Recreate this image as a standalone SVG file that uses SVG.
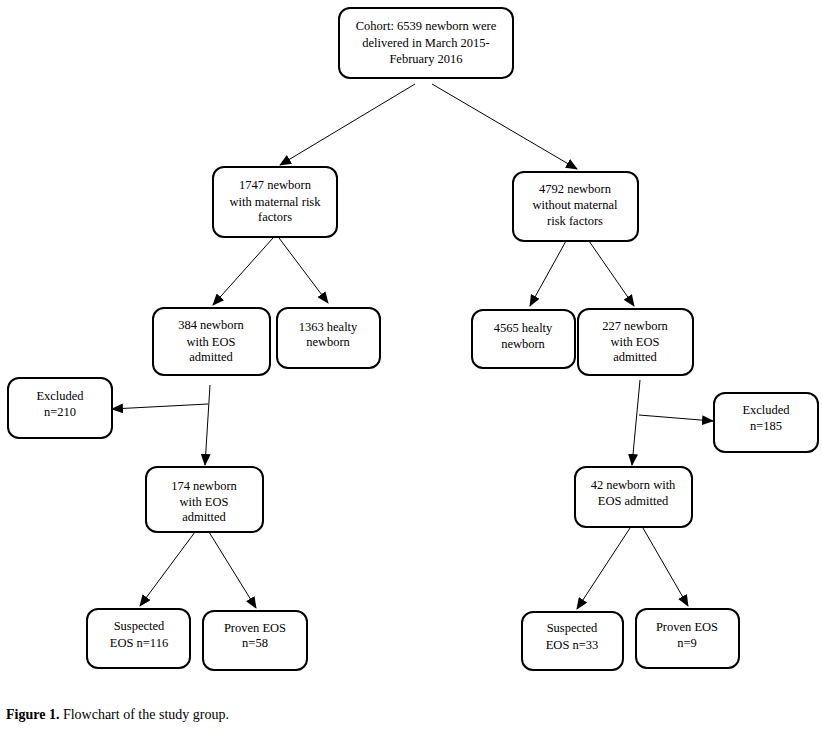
<svg xmlns="http://www.w3.org/2000/svg" width="822" height="729" viewBox="0 0 822 729">
<style>
.box{fill:#fff;stroke:#000;stroke-width:2}
.t{font-family:"Liberation Serif","Times New Roman",serif;font-size:12.5px;fill:#000;text-anchor:middle}
.c{font-family:"Liberation Serif","Times New Roman",serif;font-size:14px;fill:#000}
.ln{stroke:#000;stroke-width:1;fill:none;marker-end:url(#ah)}
</style>
<defs>
<marker id="ah" markerWidth="12" markerHeight="10" refX="11" refY="5" orient="auto" markerUnits="userSpaceOnUse">
<path d="M0,0 L12,5 L0,10 Z" fill="#000"/>
</marker>
</defs>
<rect width="822" height="729" fill="#fff"/>
<g id="connectors">
<line class="ln" x1="415" y1="84" x2="280" y2="165"/>
<line class="ln" x1="432" y1="84" x2="577" y2="169"/>
<line class="ln" x1="273" y1="238" x2="213" y2="305"/>
<line class="ln" x1="279" y1="238" x2="328" y2="303"/>
<line class="ln" x1="566" y1="241" x2="530" y2="306"/>
<line class="ln" x1="589" y1="241" x2="634" y2="306"/>
<line class="ln" x1="210" y1="385" x2="205" y2="465"/>
<line class="ln" x1="208" y1="404" x2="112" y2="409"/>
<line class="ln" x1="640" y1="380" x2="632" y2="465"/>
<line class="ln" x1="639" y1="415" x2="713" y2="421"/>
<line class="ln" x1="195" y1="532" x2="140" y2="606"/>
<line class="ln" x1="209" y1="532" x2="256" y2="608"/>
<line class="ln" x1="630" y1="528" x2="577" y2="609"/>
<line class="ln" x1="643" y1="528" x2="688" y2="606"/>
</g>
<g id="cohort">
<rect class="box" x="339" y="8" width="174" height="70" rx="11"/>
<text class="t" x="426" y="30">Cohort: 6539 newborn were</text>
<text class="t" x="426" y="47">delivered in March 2015-</text>
<text class="t" x="426" y="63">February 2016</text>
</g>
<g id="n1747">
<rect class="box" x="213" y="167" width="124" height="70" rx="11"/>
<text class="t" x="275" y="189">1747 newborn</text>
<text class="t" x="275" y="206">with maternal risk</text>
<text class="t" x="275" y="221">factors</text>
</g>
<g id="n4792">
<rect class="box" x="513" y="172" width="125" height="69" rx="11"/>
<text class="t" x="575" y="193">4792 newborn</text>
<text class="t" x="575" y="209">without maternal</text>
<text class="t" x="575" y="225">risk factors</text>
</g>
<g id="n384">
<rect class="box" x="153" y="308" width="117" height="67" rx="11"/>
<text class="t" x="211" y="329">384 newborn</text>
<text class="t" x="211" y="346">with EOS</text>
<text class="t" x="211" y="361">admitted</text>
</g>
<g id="n1363">
<rect class="box" x="277" y="308" width="103" height="60" rx="11"/>
<text class="t" x="328" y="331">1363 healty</text>
<text class="t" x="328" y="346">newborn</text>
</g>
<g id="n4565">
<rect class="box" x="472" y="310" width="103" height="58" rx="11"/>
<text class="t" x="523" y="332">4565 healty</text>
<text class="t" x="523" y="348">newborn</text>
</g>
<g id="n227">
<rect class="box" x="578" y="309" width="115" height="66" rx="11"/>
<text class="t" x="635" y="330">227 newborn</text>
<text class="t" x="635" y="346">with EOS</text>
<text class="t" x="635" y="361">admitted</text>
</g>
<g id="excl210">
<rect class="box" x="8" y="378" width="104" height="60" rx="11"/>
<text class="t" x="60" y="400">Excluded</text>
<text class="t" x="60" y="416">n=210</text>
</g>
<g id="excl185">
<rect class="box" x="714" y="393" width="104" height="59" rx="11"/>
<text class="t" x="766" y="414">Excluded</text>
<text class="t" x="766" y="430">n=185</text>
</g>
<g id="n174">
<rect class="box" x="146" y="467" width="117" height="65" rx="11"/>
<text class="t" x="204" y="490">174 newborn</text>
<text class="t" x="204" y="506">with EOS</text>
<text class="t" x="204" y="521">admitted</text>
</g>
<g id="n42">
<rect class="box" x="575" y="467" width="117" height="60" rx="11"/>
<text class="t" x="633" y="489">42 newborn with</text>
<text class="t" x="633" y="505">EOS admitted</text>
</g>
<g id="susp116">
<rect class="box" x="87" y="609" width="103" height="59" rx="11"/>
<text class="t" x="139" y="630">Suspected</text>
<text class="t" x="139" y="647">EOS n=116</text>
</g>
<g id="prov58">
<rect class="box" x="203" y="611" width="104" height="59" rx="11"/>
<text class="t" x="255" y="632">Proven EOS</text>
<text class="t" x="255" y="647">n=58</text>
</g>
<g id="susp33">
<rect class="box" x="522" y="612" width="101" height="58" rx="11"/>
<text class="t" x="572" y="632">Suspected</text>
<text class="t" x="572" y="649">EOS n=33</text>
</g>
<g id="prov9">
<rect class="box" x="636" y="609" width="103" height="59" rx="11"/>
<text class="t" x="687" y="631">Proven EOS</text>
<text class="t" x="687" y="647">n=9</text>
</g>
<text class="c" x="6" y="719"><tspan font-weight="bold">Figure 1.</tspan> Flowchart of the study group.</text>
</svg>
